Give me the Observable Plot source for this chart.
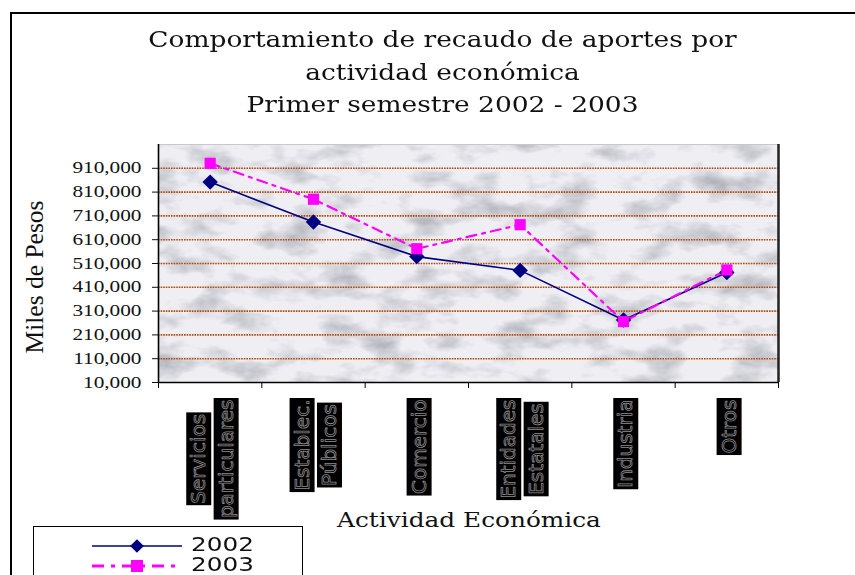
<!DOCTYPE html>
<html>
<head>
<meta charset="utf-8">
<script src="https://cdn.jsdelivr.net/npm/d3@7"></script>
<script src="https://cdn.jsdelivr.net/npm/@observablehq/plot@0.6"></script>
<style>
  html, body { margin: 0; padding: 0; background: #fff; overflow: hidden; }
  #wrap { position: relative; width: 855px; height: 575px; overflow: hidden; }
  #border { position: absolute; left: 10px; top: 12px; width: 900px; height: 600px;
            border-left: 2px solid #000; border-top: 2px solid #000; }
  #chart { position: absolute; left: 0; top: 0; }
  .title { position: absolute; left: 0; top: 23px; width: 885px; text-align: center;
           font-family: "DejaVu Serif", serif; font-size: 23px; line-height: 32.5px; color: #111;
           transform: scaleX(1.15); transform-origin: 442.5px 0; }
  .ylab { position: absolute; left: 35px; top: 277px; transform: translate(-50%, -50%) rotate(-90deg);
          white-space: nowrap; font-family: "Liberation Serif", serif; font-size: 25.5px; color: #111; }
  .xlab { position: absolute; left: 469px; top: 508px; transform: translateX(-50%) scaleX(1.18);
          white-space: nowrap; font-family: "DejaVu Serif", serif; font-size: 21px; color: #111; }
  .legend { position: absolute; left: 33px; top: 526px; width: 268px; height: 70px;
            border: 1.5px solid #000; background: #fff; }
  .lrow { position: absolute; left: 0; height: 20px; }
  .lrow svg { position: absolute; left: 58px; top: 0; }
  .lrow span { position: absolute; left: 157px; top: -3px; font-family: "DejaVu Sans", sans-serif;
               font-size: 19px; display: inline-block; transform: scaleX(1.3); transform-origin: left center;
               color: #111; }
</style>
</head>
<body>
<div id="wrap">
  <div id="border"></div>
  <div id="chart"></div>
  <div class="title">Comportamiento de recaudo de aportes por<br>actividad económica<br>Primer semestre 2002 - 2003</div>
  <div class="ylab">Miles de Pesos</div>
  <div class="xlab">Actividad Económica</div>
  <div class="legend" id="legend"></div>
</div>
<script>
// ---- data ----
const categories = ["Servicios\nparticulares", "Establec.\nPúblicos", "Comercio", "Entidades\nEstatales", "Industria", "Otros"];
const series = ["2002", "2003"];
const values2002 = [852000, 684000, 539000, 481000, 273000, 472000];
const values2003 = [931000, 780000, 572000, 673000, 266000, 483000];
const yTicks = [10000, 110000, 210000, 310000, 410000, 510000, 610000, 710000, 810000, 910000];
const yMax = 1010000;

const colors = {"2002": "#000080", "2003": "#ff00ff"};

const rows2002 = categories.map((c, i) => ({cat: c, i, value: values2002[i], series: series[0]}));
const rows2003 = categories.map((c, i) => ({cat: c, i, value: values2003[i], series: series[1]}));
const boundaries = d3.range(-0.5, categories.length, 1);

const chart = Plot.plot({
  width: 855,
  height: 575,
  marginLeft: 158,
  marginRight: 77,
  marginTop: 144,
  marginBottom: 193,
  style: {background: "transparent", overflow: "visible"},
  x: {type: "linear", domain: [-0.5, categories.length - 0.5]},
  y: {domain: [yTicks[0], yMax]},
  marks: [
    Plot.frame({fill: "#eeeef3", stroke: null}),
    Plot.ruleY([yMax], {stroke: "#c8c8c8", strokeWidth: 1}),
    Plot.ruleY(yTicks.slice(1), {stroke: "#b04a08", strokeWidth: 1.6, strokeDasharray: "1.6,1"}),
    Plot.ruleX([categories.length - 0.5], {stroke: "#222", strokeWidth: 2.5}),
    Plot.axisY({ticks: yTicks, tickFormat: d3.format(","), tickSize: 6, tickPadding: 6,
                fontSize: 16, fontFamily: "Liberation Serif", label: null, color: "#111"}),
    Plot.axisX({ticks: boundaries, tickFormat: () => "", tickSize: 6, label: null}),
    Plot.ruleX([-0.5], {stroke: "#000", strokeWidth: 1.6}),
    Plot.ruleY([yTicks[0]], {stroke: "#000", strokeWidth: 1.6}),
    Plot.line(rows2002, {x: "i", y: "value", stroke: colors["2002"], strokeWidth: 1.6}),
    Plot.line(rows2003, {x: "i", y: "value", stroke: colors["2003"], strokeWidth: 2.2, strokeDasharray: "10,6,3,6"}),
    Plot.dot(rows2002, {x: "i", y: "value", symbol: "diamond2", r: 6, fill: colors["2002"], stroke: colors["2002"]}),
    Plot.dot(rows2003, {x: "i", y: "value", symbol: "square", r: 6.3, fill: colors["2003"], stroke: null}),
    Plot.text(categories, {x: (d, i) => i, y: () => yTicks[0], dy: 17, rotate: -90,
      textAnchor: "end", lineAnchor: "middle", lineHeight: 1.37, fontSize: 20, fontFamily: "DejaVu Sans",
      fill: "#000", stroke: "#8c8c8c", strokeWidth: 0.8, paintOrder: "normal"})
  ]
});
document.getElementById("chart").appendChild(chart);

// marble-like texture for the plot background
const ns = "http://www.w3.org/2000/svg";
const defs = document.createElementNS(ns, "defs");
defs.innerHTML = `
<filter id="marble" x="0" y="0" width="1" height="1" color-interpolation-filters="sRGB">
  <feTurbulence type="fractalNoise" baseFrequency="0.022 0.04" numOctaves="4" seed="11" result="n"/>
  <feColorMatrix in="n" type="matrix" values="0 0 0 0 0.5  0 0 0 0 0.5  0 0 0 0 0.55  1.25 0 0 0 -0.58" result="spots"/>
  <feComposite in="spots" in2="SourceGraphic" operator="atop"/>
</filter>`;
chart.insertBefore(defs, chart.firstChild);
const frame = chart.querySelector('[aria-label="frame"]');
if (frame) frame.setAttribute("filter", "url(#marble)");

// stretch y tick labels horizontally like the reference
chart.querySelectorAll('[aria-label="y-axis tick label"] text').forEach(t => {
  const tr = t.getAttribute("transform") || "";
  t.setAttribute("transform", tr + " translate(-5,0) scale(1.33,1)");
});

// category labels: centre the lines of each label on each other, then black boxes behind
chart.querySelectorAll("text").forEach(t => {
  const tr = t.getAttribute("transform") || "";
  if (!tr.includes("rotate(-90)")) return;
  const spans = Array.from(t.querySelectorAll("tspan"));
  if (spans.length > 1) {
    const lens = spans.map(s => s.getComputedTextLength());
    const mx = Math.max(...lens);
    spans.forEach((s, j) => s.setAttribute("x", -(mx - lens[j]) / 2));
  }
  const parts = spans.length ? spans : [t];
  parts.forEach(p => {
    const b = p.getBBox();
    const r = document.createElementNS(ns, "rect");
    r.setAttribute("x", b.x - 1.5);
    r.setAttribute("y", b.y);
    r.setAttribute("width", b.width + 3);
    r.setAttribute("height", b.height + 1);
    r.setAttribute("fill", "#000");
    r.setAttribute("stroke", "none");
    r.setAttribute("transform", tr);
    t.parentNode.insertBefore(r, t);
  });
});

// legend
const legend = document.getElementById("legend");
series.forEach((s, k) => {
  const row = document.createElement("div");
  row.className = "lrow";
  row.style.top = (9 + k * 20) + "px";
  const sw = d3.create("svg").attr("width", 92).attr("height", 20);
  sw.append("line").attr("x1", 0).attr("x2", 90).attr("y1", 10).attr("y2", 10)
    .attr("stroke", colors[s]).attr("stroke-width", k ? 3 : 1.6)
    .attr("stroke-dasharray", k ? "12,7,4,7" : null);
  if (k === 0) {
    sw.append("path").attr("d", d3.symbol(d3.symbolDiamond2, 120)()).attr("transform", "translate(45,10)").attr("fill", colors[s]);
  } else {
    sw.append("rect").attr("x", 39).attr("y", 4).attr("width", 12).attr("height", 12).attr("fill", colors[s]);
  }
  row.appendChild(sw.node());
  const lab = document.createElement("span");
  lab.textContent = s;
  row.appendChild(lab);
  legend.appendChild(row);
});
</script>
</body>
</html>
